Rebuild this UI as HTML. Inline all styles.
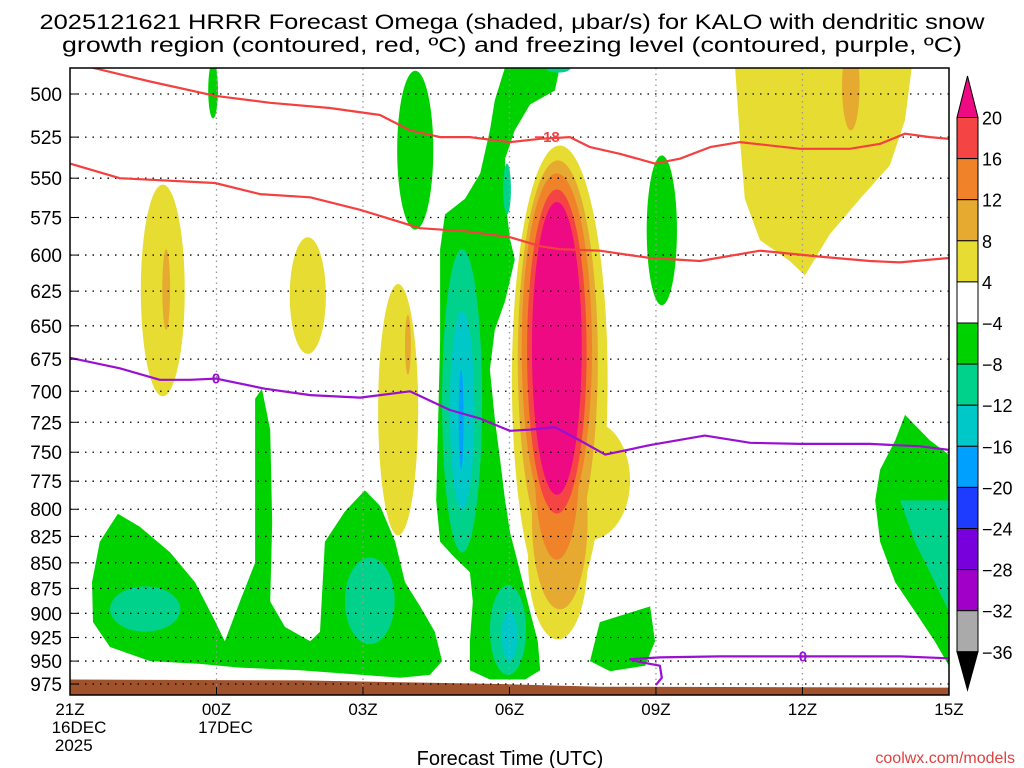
<!DOCTYPE html>
<html><head><meta charset="utf-8"><title>HRRR Omega KALO</title>
<style>
html,body{margin:0;padding:0;background:#fff;}
svg{display:block;font-family:"Liberation Sans",sans-serif;}
</style></head>
<body>
<svg id="chart" width="1024" height="768" viewBox="0 0 1024 768" xmlns="http://www.w3.org/2000/svg">
<text x="512" y="29" font-size="21" text-anchor="middle" textLength="945" lengthAdjust="spacingAndGlyphs">2025121621 HRRR Forecast Omega (shaded, μbar/s) for KALO with dendritic snow</text>
<text x="512" y="52" font-size="21" text-anchor="middle" textLength="900" lengthAdjust="spacingAndGlyphs">growth region (contoured, red, ºC) and freezing level (contoured, purple, ºC)</text>
<g id="fills"></g>
<g id="terrain"></g>
<g id="grid"></g>
<g id="contours"></g>
<rect x="70" y="68" width="879" height="627" fill="none" stroke="#000" stroke-width="1.5"/>
<g id="yaxis"></g>
<g id="xaxis"></g>
<g id="cbar"></g>
<text x="510" y="765" font-size="20" text-anchor="middle">Forecast Time (UTC)</text>
<text x="1015" y="763" font-size="16" fill="#e04040" text-anchor="end">coolwx.com/models</text>
</svg>
<script>
// ---- data ----
const pressureTicks = [500,525,550,575,600,625,650,675,700,725,750,775,800,825,850,875,900,925,950,975];
const timeTickHours = [0,3,6,9,12,15,18];
const timeTickLabels = ["21Z","00Z","03Z","06Z","09Z","12Z","15Z"];
const timeTickSub1 = ["16DEC","17DEC","","","","",""];
const timeTickSub2 = ["2025","","","","","",""];
const cbarLevels = [20,16,12,8,4,-4,-8,-12,-16,-20,-24,-28,-32,-36];
const cbarColors = ["#f54444","#f0822a","#e6aa30","#e6dc32","#ffffff","#00d200","#00d28c","#00c8c8","#00a0ff","#1e3cff","#7800dc","#a000c8","#aaaaaa"];
// ellipse blobs: centre hour, half-width (h), top pressure, bottom pressure, omega value
const blobHour = [10.03,10.65,9.99,1.90,4.87,6.72, 9.99,10.03,1.97,6.92,15.99, 9.97,9.97, 9.97, 9.97, 7.07,12.12,2.93, 8.03,8.97,8.95,1.54,6.14,10.0, 8.03,9.0, 8.01];
const blobHalfH = [0.98,0.82,0.61,0.45,0.37,0.41, 0.82,0.57,0.08,0.06,0.18, 0.72,0.45, 0.61, 0.51, 0.37,0.31,0.10, 0.41,0.37,0.08,0.72,0.51,0.25, 0.25,0.16, 0.05];
const blobTopP = [530,724,774,554,588,620, 539,732,596,642,471, 547,692, 557, 565, 487,536,482, 596,872,541,873,845,483, 639,897, 683];
const blobBotP = [901,828,927,704,671,824, 847,896,653,687,521, 814,847, 804, 787, 583,635,514, 840,965,573,919,932,488, 801,950, 765];
const blobVal = [6,6,6,6,6,6, 10,10,10,10,10, 14,14, 18, 22, -6,-6,-6, -10,-10,-10,-10,-10,-10, -14,-14, -18];
// polygons in [hour, pressure]
const polyVal = [6,-6,-6,-6,-6,-10];
const polyPts = [
 [[13.62,485],[17.24,485],[17.10,515],[16.79,542],[16.18,563],[15.56,586],[15.05,614],[14.74,604],[14.13,590],[13.82,563],[13.72,526]],
 [[8.91,485],[10.03,485],[9.93,498],[9.42,506],[9.11,521],[8.91,538],[8.91,563],[9.01,589],[9.11,603],[8.91,632],[8.70,653],[8.60,683],[8.70,722],[8.81,757],[8.91,792],[9.01,821],[9.22,859],[9.42,898],[9.58,929],[9.63,960],[9.32,970],[8.60,970],[8.19,960],[8.19,929],[8.25,888],[8.19,859],[7.88,845],[7.58,830],[7.50,792],[7.54,722],[7.58,661],[7.58,596],[7.68,573],[8.09,563],[8.40,547],[8.60,521],[8.70,503.5]],
 [[0.45,869],[0.61,830],[0.98,804],[1.43,816],[2.05,840],[2.56,869],[2.97,908],[3.17,929],[3.48,888],[3.79,850],[3.79,706],[3.93,698],[4.10,731],[4.14,812],[4.10,888],[4.40,914],[4.92,929],[5.12,919],[5.22,830],[5.63,802],[6.04,783],[6.35,797],[6.66,830],[6.86,869],[7.17,893],[7.47,919],[7.62,950],[7.37,965],[6.76,968],[4.71,960],[3.48,957],[2.66,953],[1.64,950],[0.82,935],[0.47,909]],
 [[10.85,909],[11.88,893],[11.98,929],[11.78,955],[11.06,961],[10.65,950]],
 [[17.10,719],[17.61,740],[18.0,752],[18.0,955],[17.71,929],[17.30,898],[16.90,869],[16.59,830],[16.49,792],[16.59,765],[16.90,740]],
 [[17.0,792],[18,792],[18,898],[17.71,869],[17.30,830]]
];
const dgzUpperH = [0.41,1.64,2.97,4.10,5.32,6.35,6.96,7.58,8.19,9.01,9.63,10.24,10.65,11.26,11.98,12.49,13.11,13.72,14.95,15.97,16.59,17.10,17.61,18];
const dgzUpperP = [485,493,501,505,508,512,521,525,525,528,526,525,531,535,541,538,531,528,532,532,529,523,525,526];
const dgzLowerH = [0,1.02,2.97,3.89,4.92,5.94,7.17,8.09,9.01,9.63,10.03,10.85,11.88,12.90,14.13,15.36,16.38,16.99,18];
const dgzLowerP = [541,550,553,560,562,570,582,584,588,594,596,597,602,604,597,601,604,605,602];
const frzH = [0,1.02,1.84,2.46,2.99,3.99,4.92,5.94,6.96,7.78,8.40,9.01,9.42,9.93,10.44,10.96,11.88,13.0,13.93,14.95,16.38,17.41,18];
const frzP = [674,682,691,691,690,698,703,705,700,715,722,732,731,729,740,752,744,736,742,743,743,745,748];
const frzLowH = [18,17.0,15.01,13.31,12.08,11.47,11.67,12.08,12.12,12.0];
const frzLowP = [947,945,945,945,946,948,951,955,968,976];
const terrainH = [0,4.71,8.81,10.85,18];
const terrainP = [970,971,975,978,979];
// ---- scales ----
const P_BOTTOM = 987;
const X = h => 70 + h*48.83;
const Y = p => 94 + 883.5*Math.log(p/500);
const NS = "http://www.w3.org/2000/svg";
function mk(tag, parent, attrs){const e=document.createElementNS(NS,tag);for(const k in attrs)e.setAttribute(k,attrs[k]);parent.appendChild(e);return e;}
function colorFor(v){
  if(v>=20) return "#ee0a82";
  for(let i=0;i<cbarLevels.length-1;i++){ if(v<cbarLevels[i] && v>=cbarLevels[i+1]) return cbarColors[i]; }
  return "#000";
}
const defs=mk("defs",document.getElementById("chart"),{});
const cp=mk("clipPath",defs,{id:"plotclip"});
mk("rect",cp,{x:70,y:68,width:879,height:627});
const fills=document.getElementById("fills");
fills.setAttribute("clip-path","url(#plotclip)");
const items=[];
polyPts.forEach((pts,i)=>items.push({t:"p",i:i,v:polyVal[i]}));
blobHour.forEach((h,i)=>items.push({t:"e",i:i,v:blobVal[i]}));
items.sort((a,b)=>Math.abs(a.v)-Math.abs(b.v));
items.forEach(it=>{
  if(it.t==="p"){
    const d=polyPts[it.i].map(q=>X(q[0]).toFixed(1)+","+Y(q[1]).toFixed(1)).join(" ");
    const el=mk("polygon",fills,{points:d,fill:colorFor(it.v)});
    
    
  } else {
    const i=it.i;
    const y1=Y(blobTopP[i]), y2=Y(blobBotP[i]);
    const el=mk("ellipse",fills,{cx:X(blobHour[i]),cy:(y1+y2)/2,rx:blobHalfH[i]*48.83,ry:(y2-y1)/2,fill:colorFor(blobVal[i])});
    
    
  }
});
const tg=document.getElementById("terrain");
let td="M"+X(0)+","+Y(P_BOTTOM);
terrainH.forEach((h,i)=>{td+=" L"+X(h).toFixed(1)+","+Y(terrainP[i]).toFixed(1);});
td+=" L"+X(18)+","+Y(P_BOTTOM)+" Z";
const tp=mk("path",tg,{d:td,fill:"#a0522d"});


const grid=document.getElementById("grid"), ya=document.getElementById("yaxis"), xa=document.getElementById("xaxis");
pressureTicks.forEach(p=>{
  const y=Y(p);
  const gl=mk("line",grid,{x1:70,x2:949,y1:y,y2:y,stroke:"#000","stroke-dasharray":"1.5,6","stroke-width":1.3});
  
  
  const tk=mk("line",ya,{x1:70,x2:78,y1:y,y2:y,stroke:"#000","stroke-width":1});
  
  
  const t=mk("text",ya,{x:62,y:y+7,"font-size":19,"text-anchor":"end"});
  t.textContent=p;
  
  
});
timeTickHours.forEach((h,i)=>{
  const x=X(h);
  if(i>0&&i<timeTickHours.length-1){
    const gl=mk("line",grid,{x1:x,x2:x,y1:68,y2:695,stroke:"#999","stroke-dasharray":"1.5,4","stroke-width":1.3});
    
    
  }
  const tk=mk("line",xa,{x1:x,x2:x,y1:687,y2:695,stroke:"#000"});
  
  
  [timeTickLabels[i],timeTickSub1[i],timeTickSub2[i]].forEach((s,k)=>{
    if(!s) return;
    const t=mk("text",xa,{x:x+(k>0?-17+(s.length*5.2):0),y:715+k*18,"font-size":17,"text-anchor":"middle"});
    t.textContent=s;
    
    
  });
});
const cg=document.getElementById("contours");
cg.setAttribute("clip-path","url(#plotclip)");
function line(H,P,color,name){
  const d=H.map((h,i)=>(i?"L":"M")+X(h).toFixed(1)+","+Y(P[i]).toFixed(1)).join(" ");
  const el=mk("path",cg,{d:d,fill:"none",stroke:color,"stroke-width":2.2,"stroke-linejoin":"round"});
  
  
}
line(dgzUpperH,dgzUpperP,"#f54040","dgz-upper-contour");
line(dgzLowerH,dgzLowerP,"#f54040","dgz-lower-contour");
line(frzH,frzP,"#9a10d0","freezing-level-contour");
line(frzLowH,frzLowP,"#9a10d0","freezing-level-low-contour");
function clabel(h,p,s,color,name){
  const t=mk("text",cg,{x:X(h),y:Y(p)+5,"font-size":15,"font-weight":"bold",fill:color,"text-anchor":"middle"});
  t.textContent=s;
  
  
}
clabel(9.77,525,"−18","#f54040","dgz-label");
clabel(2.99,690,"0","#9a10d0","freezing-label");
clabel(15.01,945,"0","#9a10d0","freezing-label-low");
const cb=document.getElementById("cbar");
const bx=957, bw=21, cbTop=117.5, step=41.1;
const tri=mk("polygon",cb,{points:`${bx},${cbTop} ${bx+bw},${cbTop} ${bx+bw/2},76`,fill:"#ee0a82",stroke:"#000"});


cbarColors.forEach((c,i)=>{
  const r=mk("rect",cb,{x:bx,y:cbTop+i*step,width:bw,height:step,fill:c,stroke:"#000","stroke-width":1});
  
  
});
const cbBot=cbTop+cbarColors.length*step;
const tri2=mk("polygon",cb,{points:`${bx},${cbBot} ${bx+bw},${cbBot} ${bx+bw/2},690`,fill:"#000",stroke:"#000"});


cbarLevels.forEach((v,i)=>{
  const t=mk("text",cb,{x:982,y:cbTop+i*step+7,"font-size":18});
  t.textContent=(v<0?"−":"")+Math.abs(v);
  
  
});
</script>
</body></html>
